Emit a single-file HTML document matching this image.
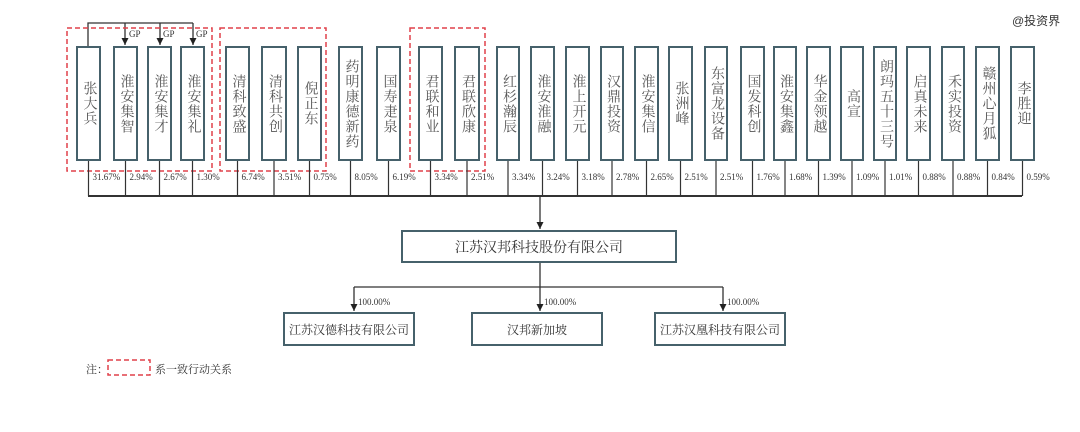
<!DOCTYPE html>
<html><head><meta charset="utf-8"><style>
body{margin:0;width:1080px;height:432px;background:#fff;position:relative;overflow:hidden;font-family:"Liberation Serif","Noto Serif CJK SC",serif;color:#333}
.b{position:absolute;top:46px;height:115px;border:2px solid #46616b;box-sizing:border-box;background:#fff;display:flex;align-items:center;justify-content:center}
.b span{writing-mode:vertical-rl;text-orientation:upright;font-size:14px;line-height:16px;letter-spacing:1px;color:#555}
.p{position:absolute;top:172px;font-size:9px;color:#333}
.c{position:absolute;border:2px solid #46616b;box-sizing:border-box;background:#fff;display:flex;align-items:center;justify-content:center;font-size:12px;color:#333;white-space:nowrap}
.t{position:absolute;font-size:9px;color:#333}
</style></head><body>
<svg width="1080" height="432" style="position:absolute;left:0;top:0">
<defs><marker id="a" markerWidth="8" markerHeight="8" refX="4" refY="7" orient="0" markerUnits="userSpaceOnUse"><path d="M0.5,0 L7.5,0 L4,7 Z" fill="#222"/></marker></defs>
<g stroke="#333" stroke-width="1.3" fill="none">
<path d="M88,46 V23 H193"/>
<line x1="125" y1="23" x2="125" y2="45" marker-end="url(#a)"/>
<line x1="160" y1="23" x2="160" y2="45" marker-end="url(#a)"/>
<line x1="193" y1="23" x2="193" y2="45" marker-end="url(#a)"/>
<line x1="88" y1="196" x2="1022" y2="196" stroke-width="2"/>
<line x1="540" y1="196" x2="540" y2="229" marker-end="url(#a)"/>
<path d="M540,262 V287"/>
<path d="M354,287 H723"/>
<line x1="354" y1="287" x2="354" y2="311" marker-end="url(#a)"/>
<line x1="540" y1="287" x2="540" y2="311" marker-end="url(#a)"/>
<line x1="723" y1="287" x2="723" y2="311" marker-end="url(#a)"/>
</g>
<g stroke="#e0404a" stroke-width="1.5" fill="none" stroke-dasharray="5,3">
<rect x="67" y="28" width="145" height="143"/>
<rect x="220" y="28" width="106" height="143"/>
<rect x="410" y="28" width="75" height="143"/>
<rect x="108" y="360" width="42" height="15"/>
</g>
<g id="vl" stroke="#333" stroke-width="1.2"></g>
</svg>
<div id="boxes"></div>
<div class="t" style="left:129px;top:29px">GP</div>
<div class="t" style="left:163px;top:29px">GP</div>
<div class="t" style="left:196px;top:29px">GP</div>
<div style="position:absolute;left:1012px;top:12px;font-size:12px;color:#333;font-family:'Liberation Sans','Noto Sans CJK SC',sans-serif">@投资界</div>
<div class="c" style="left:401px;top:230px;width:276px;height:33px;font-size:14px">江苏汉邦科技股份有限公司</div>
<div class="c" style="left:283px;top:312px;width:132px;height:34px">江苏汉德科技有限公司</div>
<div class="c" style="left:471px;top:312px;width:132px;height:34px">汉邦新加坡</div>
<div class="c" style="left:654px;top:312px;width:132px;height:34px">江苏汉凰科技有限公司</div>
<div class="t" style="left:358px;top:297px">100.00%</div>
<div class="t" style="left:544px;top:297px">100.00%</div>
<div class="t" style="left:727px;top:297px">100.00%</div>
<div style="position:absolute;left:86px;top:361px;font-size:11px">注：</div>
<div style="position:absolute;left:155px;top:361px;font-size:11px">系一致行动关系</div>
<script>
var d=[["张大兵",76,101,"31.67%"],["淮安集智",113,138,"2.94%"],["淮安集才",147,172,"2.67%"],["淮安集礼",180,205,"1.30%"],["清科致盛",225,250,"6.74%"],["清科共创",261,287,"3.51%"],["倪正东",297,322,"0.75%"],["药明康德新药",338,363,"8.05%"],["国寿疌泉",376,401,"6.19%"],["君联和业",418,443,"3.34%"],["君联欣康",454,480,"2.51%"],["红杉瀚辰",496,520,"3.34%"],["淮安淮融",530,555,"3.24%"],["淮上开元",565,590,"3.18%"],["汉鼎投资",600,624,"2.78%"],["淮安集信",634,659,"2.65%"],["张洲峰",668,693,"2.51%"],["东富龙设备",704,728,"2.51%"],["国发科创",740,765,"1.76%"],["淮安集鑫",773,797,"1.68%"],["华金领越",806,831,"1.39%"],["高宣",840,864,"1.09%"],["朗玛五十三号",873,897,"1.01%"],["启真未来",906,931,"0.88%"],["禾实投资",941,965,"0.88%"],["赣州心月狐",975,1000,"0.84%"],["李胜迎",1010,1035,"0.59%"]];
var h="",l="";
d.forEach(function(e){var cx=(e[1]+e[2])/2;
h+='<div class="b" style="left:'+e[1]+'px;width:'+(e[2]-e[1])+'px"><span>'+e[0]+'</span></div>';
h+='<div class="p" style="left:'+(cx+4)+'px">'+e[3]+'</div>';
l+='<line x1="'+cx+'" y1="161" x2="'+cx+'" y2="196"/>';});
document.getElementById("boxes").innerHTML=h;
document.getElementById("vl").innerHTML=l;
</script>
</body></html>
